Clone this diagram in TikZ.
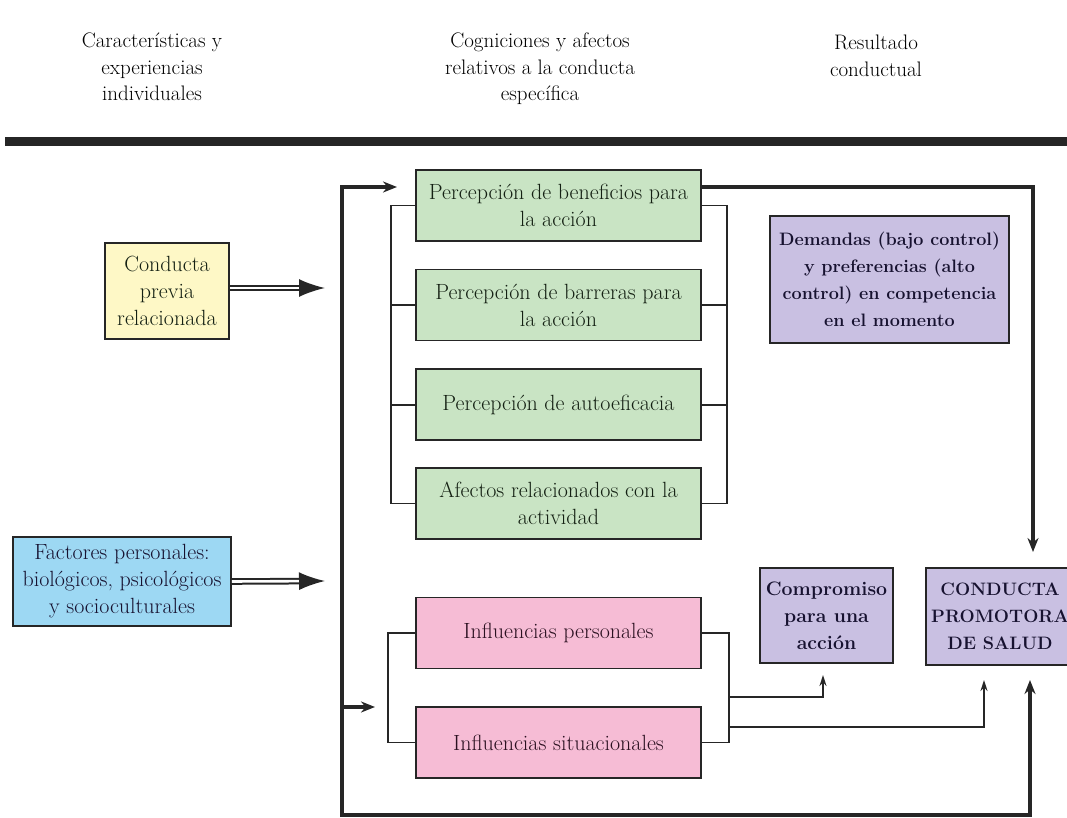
\documentclass[tikz,border=0pt]{standalone}
\usepackage{tikz}
\usetikzlibrary{arrows.meta,positioning,calc}
\definecolor{fillGreen}{HTML}{C9E4C4}
\definecolor{fillYellow}{HTML}{FEF8C6}
\definecolor{fillBlue}{HTML}{9DD8F3}
\definecolor{fillPink}{HTML}{F6BCD5}
\definecolor{fillPurple}{HTML}{C9C0E2}
\definecolor{inkGreen}{HTML}{142013}
\definecolor{inkPink}{HTML}{2A1020}
\definecolor{inkPurple}{HTML}{171230}
\definecolor{edgeDark}{HTML}{262626}
\tikzset{
  headtext/.style={align=center, font=\fontsize{21}{26.5}\selectfont, text=black},
  box/.style={draw=edgeDark, line width=1.6pt, align=center, inner sep=0pt,
    font=\fontsize{22}{27}\selectfont},
  greenbox/.style={box, fill=fillGreen, text=inkGreen, minimum width=285pt, minimum height=71pt},
  pinkbox/.style={box, fill=fillPink, text=inkPink, minimum width=285pt, minimum height=71pt},
  purplebox/.style={box, fill=fillPurple, text=inkPurple,
    font=\bfseries\fontsize{18}{27}\selectfont},
  bracket/.style={draw=edgeDark, line width=1.6pt},
  busLine/.style={draw=edgeDark, line width=4pt},
  busTip/.tip={Stealth[length=14pt, width=11pt]},
  thinArrow/.style={draw=edgeDark, line width=1.6pt, -{Stealth[length=11pt, width=7pt]}},
  dblArrow/.style={draw=edgeDark, double=white, double distance=2.6pt, line width=2pt,
    -{Latex[length=26pt, width=18pt]}},
}
\begin{document}
\begin{tikzpicture}[x=1pt, y=-1pt, node distance=27pt]
  \useasboundingbox (0,0) rectangle (1067,818);
  \clip (0,0) rectangle (1067,818);
  % column headers
  \node[headtext] (hdrInd) at (152,67) {Características y\\experiencias\\individuales};
  \node[headtext] (hdrCog) at (540,69) {Cogniciones y afectos\\relativos a la conducta\\específica};
  \node[headtext] (hdrRes) at (876,56) {Resultado\\conductual};
  \draw[line width=9pt, edgeDark] (5,142) -- (1067,142);

  % boxes
  \node[greenbox] (g1) at (558.5,205.5) {Percepción de beneficios para\\la acción};
  \node[greenbox, below=of g1] (g2) {Percepción de barreras para\\la acción};
  \node[greenbox, below=of g2] (g3) {Percepción de autoeficacia};
  \node[greenbox, below=26pt of g3] (g4) {Afectos relacionados con la\\actividad};
  \node[pinkbox] (p1) at (558.5,633) {Influencias personales};
  \node[pinkbox, below=37pt of p1] (p2) {Influencias situacionales};
  \node[box, fill=fillYellow, text=inkGreen, minimum width=124pt, minimum height=96pt] (prev) at (167,291) {Conducta\\previa\\relacionada};
  \node[box, fill=fillBlue, text=inkPurple, minimum width=218pt, minimum height=89pt] (fact) at (122,581.5) {Factores personales:\\biológicos, psicológicos\\y socioculturales};
  \node[purplebox, minimum width=239pt, minimum height=127pt] (dem) at (889.5,279.5) {Demandas (bajo control)\\y preferencias (alto\\control) en competencia\\en el momento};
  \node[purplebox, font=\bfseries\fontsize{19.5}{27}\selectfont, minimum width=133pt, minimum height=95pt] (comp) at (826.5,615.5) {Compromiso\\para una\\acción};
  \node[purplebox, minimum width=148pt, minimum height=97pt] (cps) at (1000,616.5) {CONDUCTA\\PROMOTORA\\DE SALUD};

  % connector ends
  \coordinate (busTop) at (342,187);
  \coordinate (busBot) at (342,815);
  \coordinate (g1In) at (397,187);
  \coordinate (pIn) at (375,707);
  \coordinate (cpsDown) at (1033,552);
  \coordinate (cpsUp) at (1030,680);
  \coordinate (compUp) at (823,675);
  \coordinate (cpsUpB) at (984,680);
  \coordinate (prevEnd) at (325,288);
  \coordinate (factEnd) at (325,581);

  % brackets
  \draw[bracket] (g1.west) -- ++(-24,0) |- (g4.west);
  \draw[bracket] (g2.west) -- ++(-24,0) (g3.west) -- ++(-24,0);
  \draw[bracket] (g1.east) -- ++(25,0) |- (g4.east);
  \draw[bracket] (g2.east) -- ++(25,0) (g3.east) -- ++(25,0);
  \draw[bracket] (p1.west) -- ++(-27,0) |- (p2.west);
  \draw[bracket] (p1.east) -- ++(27,0) coordinate (pBr) |- (p2.east);

  % arrows
  \draw[dblArrow] (prev.east |- prevEnd) -- (prevEnd);
  \draw[dblArrow] (fact.east) -- (factEnd);
  \draw[busLine, busTip-busTip] (g1In) -- (busTop) -- (busBot) -| (cpsUp);
  \draw[busLine, -busTip] (busTop |- pIn) -- (pIn);
  \draw[busLine, -busTip] ($(g1.north east)!0.24!(g1.south east)$) -| (cpsDown);
  \draw[thinArrow] (pBr |- 0,697) -| (compUp);
  \draw[thinArrow] (pBr |- 0,727) -| (cpsUpB);
\end{tikzpicture}
\end{document}
